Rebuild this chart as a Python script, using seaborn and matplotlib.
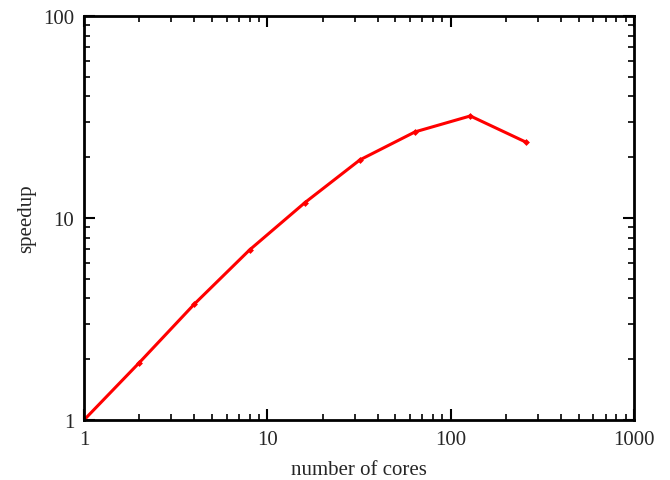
import numpy as np
import pandas as pd
import matplotlib
matplotlib.use('Agg')
from matplotlib import pyplot as plt
import seaborn as sns

## data
cores = [1, 2, 4, 8, 16, 32, 64, 128, 256]
speedup = [1.0, 1.92, 3.75, 6.95, 11.9, 19.4, 26.7, 32.0, 23.8]

d = pd.DataFrame({'cores': cores, 'speedup': speedup})

sns.set_style('white')
plt.rcParams['font.family'] = ['Liberation Serif', 'DejaVu Serif']
plt.rcParams['font.size'] = 12

fig = plt.figure(figsize=(6.7, 4.81), dpi=100)
ax = fig.add_axes([84/670, 60/481, 550/670, 404/481])
sns.lineplot(
    data=d,
    x='cores',
    y='speedup',
    color='red',
    linewidth=2.2,
    marker='D',
    markersize=3.5,
    markeredgewidth=0,
    ax=ax,
)
ax.set_xscale('log')
ax.set_yscale('log')
ax.set_xlim(1, 1000)
ax.set_ylim(1, 100)
ax.set_xticks([1, 10, 100, 1000])
ax.set_xticklabels(['1', '10', '100', '1000'])
ax.set_yticks([1, 10, 100])
ax.set_yticklabels(['1', '10', '100'])
for s in ax.spines.values():
    s.set_linewidth(2)
    s.set_color('black')
ax.tick_params(which='both', direction='in', top=True, right=True,
               bottom=True, left=True,
               labelsize=15, pad=7, color='black')
ax.tick_params(which='major', length=8, width=1.5)
ax.tick_params(which='minor', length=4, width=1.2)
ax.set_xlabel('number of cores', fontsize=15, labelpad=8)
ax.set_ylabel('speedup', fontsize=15, labelpad=5)

fig.savefig('out.png', dpi=100)
